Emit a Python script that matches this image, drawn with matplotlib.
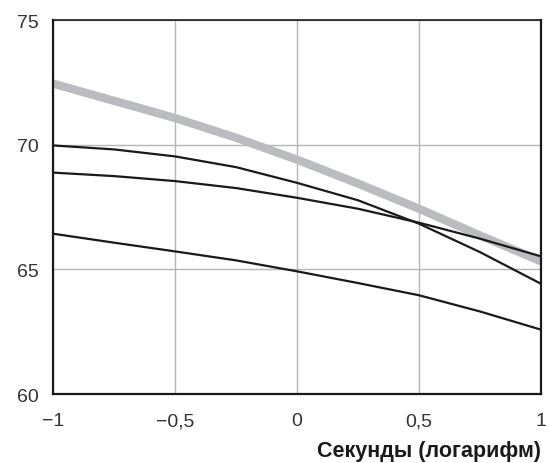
import matplotlib
matplotlib.use("Agg")
import matplotlib.pyplot as plt

# log10 seconds
x = [-1, -0.75, -0.5, -0.25, 0, 0.25, 0.5, 0.75, 1]
gray_line = [72.45, 71.76, 71.07, 70.28, 69.40, 68.44, 67.43, 66.36, 65.32]
line_a = [69.97, 69.81, 69.53, 69.10, 68.47, 67.77, 66.83, 65.69, 64.42]
line_b = [68.88, 68.74, 68.54, 68.26, 67.87, 67.43, 66.87, 66.23, 65.52]
line_c = [66.43, 66.07, 65.72, 65.36, 64.92, 64.45, 63.96, 63.31, 62.58]

xticks = [-1, -0.5, 0, 0.5, 1]
xtick_labels = ["\u22121", "\u22120,5", "0", "0,5", "1"]
yticks = [60, 65, 70, 75]
xlabel = "Секунды (логарифм)"

plt.rcParams["font.family"] = ["Liberation Sans", "DejaVu Sans"]

fig = plt.figure(figsize=(5.49, 4.64), dpi=100)
ax = fig.add_axes([0.0965, 0.1487, 0.889, 0.806])

ax.plot(x, gray_line, color="#bbbcbf", lw=6, solid_capstyle="butt", zorder=2)
for ys in (line_a, line_b, line_c):
    ax.plot(x, ys, color="#1a1a1a", lw=1.6, zorder=3)

ax.set_xlim(-1, 1)
ax.set_ylim(60, 75)
ax.set_xticks(xticks)
ax.set_xticklabels(xtick_labels)
ax.set_yticks(yticks)
ax.tick_params(length=0, labelsize=14, colors="#333333")
ax.tick_params(axis="x", pad=13)
ax.tick_params(axis="y", pad=10)
ax.grid(color="#b5b5b5", lw=1)
ax.set_axisbelow(True)
for side in ("left", "bottom", "right"):
    ax.spines[side].set_linewidth(1.6)
ax.spines["top"].set_linewidth(1.2)
for s in ax.spines.values():
    s.set_color("#1a1a1a")

ax.set_xlabel(xlabel, fontsize=15.5, fontweight="bold", color="#1a1a1a",
              loc="right", labelpad=8)

fig.savefig("out.png", dpi=100)
